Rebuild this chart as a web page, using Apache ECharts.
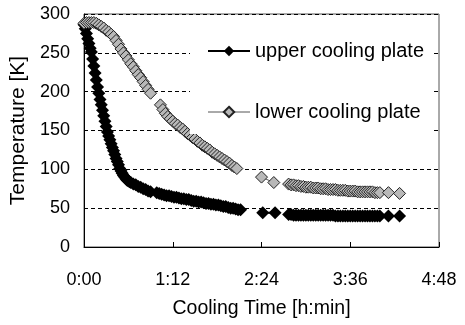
<!DOCTYPE html>
<html>
<head>
<meta charset="utf-8">
<style>
  html, body { margin: 0; padding: 0; background: #fff; }
  #chart { width: 465px; height: 325px; }
</style>
<script src="https://cdn.jsdelivr.net/npm/echarts@6/dist/echarts.min.js"></script>
</head>
<body>
<div id="chart"></div>
<script>
// cooling time in minutes, temperature in K (null = break in the record)
const upperTime = [0, 1, 2, 3, 4, 5, 6, 7, 8, 9, 10, 11, 12, 13, 14, 15, 16, 17, 18, 19, 20, 21, 22, 23, 24, 25, 26, 27, 28, 29, 30, 31, 32, 33, 34, 35, 36, 37, 38, 40, 42, 44, 46, 48, 50, 52, 54,
  57,
  59, 61, 63, 65, 67, 69, 71, 73, 75, 77, 79, 81, 83, 85, 87, 89, 91, 93, 95, 97, 99, 101, 103, 105, 107, 109, 111, 113, 115, 117, 119, 121, 123, 125, 127,
  135,
  145, 155,
  160,
  166, 168, 170, 172, 174, 176, 178, 180, 182, 184, 186, 188, 190, 192, 194, 196, 198, 200, 202, 204, 206, 208, 210, 212, 214, 216, 218, 220, 222, 224, 226, 228, 230, 232, 234, 236, 238, 240,
  244,
  247, 256];
const upperTemp = [286, 281, 275, 268, 262, 256, 251, 242, 233, 224, 215, 206, 198, 190, 183, 176, 169, 162, 155, 148, 143, 138, 133, 128, 124, 119, 114, 110, 106, 101, 98, 95, 92, 90, 88, 86, 85, 84, 83, 81, 80, 78, 77, 75, 74, 72, 71,
  null,
  70, 69, 68, 67, 66, 66, 65, 64, 64, 63, 62, 62, 61, 61, 60, 59, 59, 58, 58, 57, 56, 56, 55, 55, 54, 54, 53, 52, 52, 51, 50, 50, 49, 48, 48,
  null,
  44, 44,
  null,
  42, 42, 41, 41, 41, 41, 41, 41, 41, 41, 41, 41, 41, 41, 41, 41, 41, 41, 41, 40, 40, 40, 40, 40, 40, 40, 40, 40, 40, 40, 40, 40, 40, 40, 40, 40, 40, 40,
  null,
  40, 40];

const lowerTime = [0, 2, 4, 6, 8, 10, 12, 14, 16, 18, 20, 22, 24, 26, 28, 30, 32, 34, 36, 38, 40, 42, 44, 46, 48, 50, 52, 54,
  58,
  62, 64, 66, 68, 70, 72, 74, 76, 78, 80, 82, 84, 86, 88, 90, 92, 94, 96, 98, 100, 102, 104, 106, 108, 110, 112, 114, 116, 118, 120, 122, 124,
  135,
  144, 154,
  160,
  166, 168, 170, 172, 174, 176, 178, 180, 182, 184, 186, 188, 190, 192, 194, 196, 198, 200, 202, 204, 206, 208, 210, 212, 214, 216, 218, 220, 222, 224, 226, 228, 230, 232, 234, 236, 238, 240,
  244,
  247, 256];
const lowerTemp = [288, 289, 289, 289, 289, 288, 286, 284, 282, 279, 277, 274, 271, 266, 261, 255, 250, 246, 241, 236, 232, 227, 222, 218, 213, 208, 203, 198,
  null,
  183, 177, 172, 168, 165, 162, 159, 157, 154, 152, 149, 146, 144, 141, 139, 136, 134, 131, 129, 127, 125, 122, 120, 118, 116, 114, 112, 110, 108, 105, 103, 101,
  null,
  90, 83,
  null,
  81, 80, 80, 79, 79, 78, 78, 77, 77, 77, 76, 76, 76, 75, 75, 75, 74, 74, 74, 74, 73, 73, 73, 73, 72, 72, 72, 72, 71, 71, 71, 71, 71, 71, 71, 70, 70, 70,
  null,
  70, 69];

const timeTicks = [0, 72, 144, 216, 288];
const tempTicks = [0, 50, 100, 150, 200, 250, 300];

function pairs(ts, vs) {
  return ts.map((t, i) => [t, vs[i] == null ? '-' : vs[i]]);
}

function hmm(v) {
  const h = Math.floor(v / 60);
  const m = v % 60;
  return h + ':' + (m < 10 ? '0' + m : m);
}

const font = '"Liberation Sans", Arial, sans-serif';

const chart = echarts.init(document.getElementById('chart'), null, { renderer: 'canvas' });

chart.setOption({
  animation: false,
  backgroundColor: '#fff',
  grid: {
    left: 84, right: 26, top: 14, bottom: 78,
    show: true, borderColor: '#555', borderWidth: 1
  },
  legend: {
    orient: 'vertical',
    left: 190,
    top: 29,
    padding: [12, 10, 12, 17],
    backgroundColor: '#fff',
    itemWidth: 42,
    itemHeight: 13,
    itemGap: 41,
    textStyle: { color: '#000', fontSize: 20, fontFamily: font },
    data: [
      { name: 'upper cooling plate', lineStyle: { width: 2, color: '#000' } },
      { name: 'lower cooling plate', lineStyle: { width: 1, color: '#555' } }
    ]
  },
  xAxis: {
    type: 'value',
    min: timeTicks[0],
    max: timeTicks[timeTicks.length - 1],
    interval: 72,
    name: 'Cooling Time [h:min]',
    nameLocation: 'middle',
    nameGap: 52,
    nameTextStyle: { color: '#000', fontSize: 19.5, fontFamily: font },
    axisLine: { show: true, lineStyle: { color: '#000', width: 1 } },
    axisTick: { show: true, inside: true, length: 5, lineStyle: { color: '#000' } },
    axisLabel: { color: '#000', fontSize: 18, fontFamily: font, margin: 24, formatter: hmm },
    splitLine: { show: false }
  },
  yAxis: {
    type: 'value',
    min: tempTicks[0],
    max: tempTicks[tempTicks.length - 1],
    interval: 50,
    name: 'Temperature [K]',
    nameLocation: 'middle',
    nameGap: 43,
    nameTextStyle: { color: '#000', fontSize: 21, fontFamily: font },
    axisLine: { show: true, lineStyle: { color: '#000', width: 1 } },
    axisTick: { show: false },
    axisLabel: { color: '#000', fontSize: 18, fontFamily: font, margin: 14 },
    splitLine: { show: true, lineStyle: { color: '#000', width: 1, type: [4, 3] } }
  },
  series: [
    {
      name: 'upper cooling plate',
      type: 'line',
      data: pairs(upperTime, upperTemp),
      connectNulls: false,
      symbol: 'diamond',
      symbolSize: 13,
      showAllSymbol: true,
      lineStyle: { color: '#000', width: 2 },
      itemStyle: { color: '#000', borderColor: '#000', borderWidth: 0 }
    },
    {
      name: 'lower cooling plate',
      type: 'line',
      data: pairs(lowerTime, lowerTemp),
      connectNulls: false,
      symbol: 'diamond',
      symbolSize: 12,
      showAllSymbol: true,
      lineStyle: { color: '#555', width: 1 },
      itemStyle: { color: '#b8b8b8', borderColor: '#222', borderWidth: 1 }
    }
  ]
});
</script>
</body>
</html>
